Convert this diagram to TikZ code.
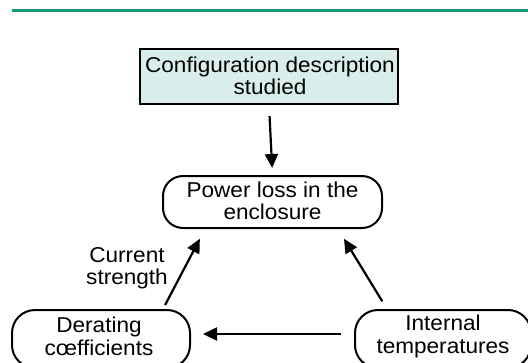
\documentclass[tikz,border=0pt]{standalone}
\usepackage{fontspec}
\setmainfont{Liberation Sans}[FakeStretch=1.05]
\usetikzlibrary{arrows.meta}
\definecolor{rulegreen}{RGB}{22,150,122}
\definecolor{boxfill}{RGB}{217,238,234}
\tikzset{
  txt/.style={align=center, inner sep=0pt, font=\fontsize{21.5}{22}\selectfont},
  txtb/.style={txt, font=\fontsize{21.5}{23.5}\selectfont},
  topbox/.style={draw=black, line width=2pt, fill=boxfill, minimum width=258pt, minimum height=55pt, inner sep=0pt},
  pill/.style={draw=black, line width=2pt, rounded corners=20pt, inner sep=0pt},
  arr/.style={line width=2.2pt, -{Triangle[length=14pt,width=13pt]}},
}
\begin{document}
\begin{tikzpicture}[x=1pt,y=-1pt]
\useasboundingbox (0,0) rectangle (528,362);
\clip (0,0) rectangle (528,362);
\coordinate (rl) at (12,10);
\coordinate (rr) at (528,10);
\draw[rulegreen, line width=3pt] (rl) -- (rr);

\node[topbox] (cfg) at (269,76.5) {};
\node[txt] (cfgt) at (270,76) {Configuration description\\studied};

\node[pill, minimum width=219pt, minimum height=52pt] (pl) at (272.5,202) {};
\node[txt] (plt) at (272.5,201) {Power loss in the\\enclosure};

\node[pill, rounded corners=23pt, minimum width=178pt, minimum height=58pt] (der) at (101,339) {};
\node[txtb] (dert) at (99,336.5) {Derating\\cœfficients};

\node[pill, rounded corners=23pt, minimum width=176pt, minimum height=58pt] (int) at (443,339) {};
\node[txtb] (intt) at (443,336.5) {Internal\\temperatures};

\node[txt] (cur) at (127,268.5) {Current\\strength};

\draw[arr, shorten <=11pt, shorten >=7pt] (cfg.south) -- (pl.north);
\draw[arr, shorten <=4.5pt, shorten >=11pt] ([xshift=62pt]der.north) -- ([xshift=-67.5pt]pl.south);
\draw[arr, shorten <=9pt, shorten >=11.5pt] ([xshift=-56pt]int.north) -- ([xshift=65.5pt]pl.south);
\draw[arr, shorten <=13pt, shorten >=12pt] ([yshift=5pt]int.west) -- ([yshift=5pt]der.east);
\end{tikzpicture}
\end{document}
